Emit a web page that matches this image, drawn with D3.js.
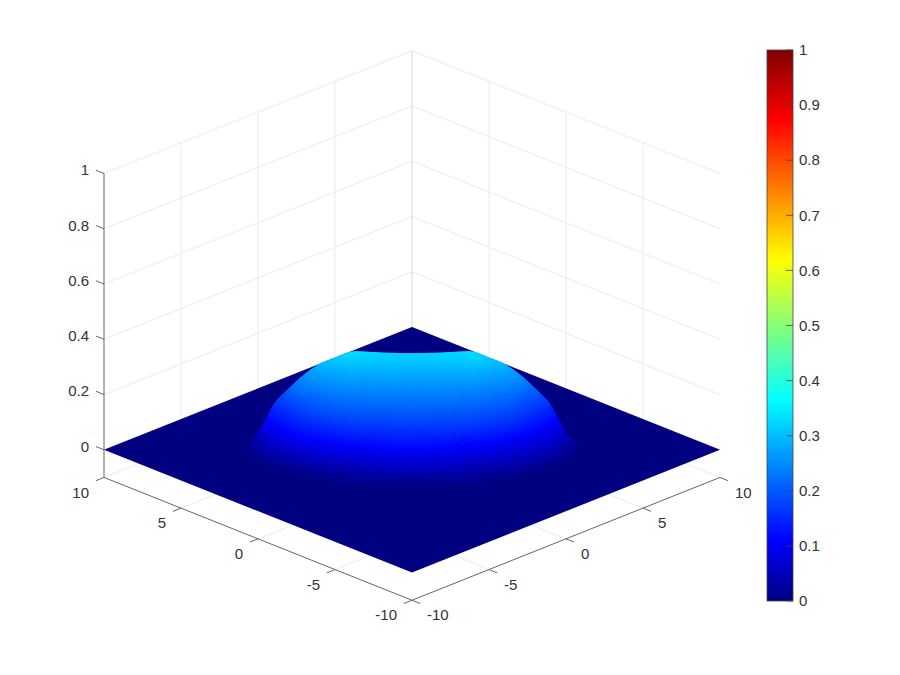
<!DOCTYPE html>
<html>
<head>
<meta charset="utf-8">
<script src="https://cdn.jsdelivr.net/npm/d3@7"></script>
<style>
    html, body { margin: 0; padding: 0; background: #fff; }
    text { font-family: "Liberation Sans", Arial, sans-serif; font-size: 15px; fill: #333; }
</style>
</head>
<body>
<svg id="viz" width="900" height="675"></svg>
<script>
// tick values
var floorTicks = [-10, -5, 0, 5, 10];
var heightTicks = [0, 0.2, 0.4, 0.6, 0.8, 1];
var colorTicks = [0, 0.1, 0.2, 0.3, 0.4, 0.5, 0.6, 0.7, 0.8, 0.9, 1];

// jet colormap
var jetStops = [0, 0.111, 0.365, 0.619, 0.873, 1];
var jetColors = ["#000080", "#0000ff", "#00ffff", "#ffff00", "#ff0000", "#800000"];

// surface heights. the dome is easier to read along the
// screen directions, so columns go across the screen (y - x) and rows go from
// the back corner to the front corner (x + y)
var acrossStops = [-11, -10, -9, -8, -7, -6, -5, -4, -3, -2, -1, 0, 1, 2, 3, 4, 5, 6, 7, 8, 9, 10, 11];
var depthStops = [7, 6, 5, 4, 3, 2, 1, 0, -1, -2, -3, -4, -5, -6, -7];
var heightRows = [
    [0, 0, 0, 0, 0, 0, 0, 0, 0, 0, 0, 0, 0, 0, 0, 0, 0, 0, 0, 0, 0, 0, 0],
    [0, 0, 0, 0, 0, 0, 0, 0, 0, 0, 0, 0, 0, 0, 0, 0, 0, 0, 0, 0, 0, 0, 0],
    [0, 0, 0, 0, 0, 0, .003, .031, .044, .05, .053, .053, .053, .05, .044, .031, .003, 0, 0, 0, 0, 0, 0],
    [0, 0, 0, 0, 0, .036, .065, .102, .12, .129, .134, .134, .134, .129, .12, .102, .065, .036, 0, 0, 0, 0, 0],
    [0, 0, 0, .019, .073, .128, .166, .2, .21, .215, .215, .214, .215, .215, .21, .2, .166, .128, .073, .019, 0, 0, 0],
    [0, 0, .027, .101, .17, .219, .26, .289, .296, .297, .298, .297, .298, .297, .296, .289, .26, .219, .17, .101, .027, 0, 0],
    [0, .02, .132, .196, .248, .287, .31, .329, .328, .323, .32, .318, .32, .323, .328, .329, .31, .287, .248, .196, .132, .02, 0],
    [0, .06, .149, .198, .246, .274, .289, .301, .3, .299, .298, .297, .298, .299, .3, .301, .289, .274, .246, .198, .149, .06, 0],
    [0, .032, .112, .16, .207, .236, .254, .266, .268, .268, .268, .267, .268, .268, .268, .266, .254, .236, .207, .16, .112, .032, 0],
    [0, 0, .069, .124, .171, .2, .219, .232, .237, .237, .238, .237, .238, .237, .237, .232, .219, .2, .171, .124, .069, 0, 0],
    [0, 0, .003, .062, .122, .157, .179, .194, .203, .205, .207, .207, .207, .205, .203, .194, .179, .157, .122, .062, .003, 0, 0],
    [0, 0, 0, 0, .027, .088, .124, .143, .157, .163, .167, .167, .167, .163, .157, .143, .124, .088, .027, 0, 0, 0, 0],
    [0, 0, 0, 0, 0, 0, .02, .048, .085, .102, .114, .115, .114, .102, .085, .048, .02, 0, 0, 0, 0, 0, 0],
    [0, 0, 0, 0, 0, 0, 0, 0, .005, .011, .014, .015, .014, .011, .005, 0, 0, 0, 0, 0, 0, 0, 0],
    [0, 0, 0, 0, 0, 0, 0, 0, 0, 0, 0, 0, 0, 0, 0, 0, 0, 0, 0, 0, 0, 0, 0]
];

window.addEventListener("load", run);

function run() {
    var svg = d3.select("#viz");

    var acrossScale = d3.scaleLinear().domain([-20, 20]).range([104, 720]);
    var depthScale = d3.scaleLinear().domain([-20, 20]).range([122.8, -122.8]);
    var heightScale = d3.scaleLinear().domain([0, 1]).range([449.8, 173.5]);
    var jet = d3.scaleLinear().domain(jetStops).range(jetColors).clamp(true);

    // x, y, z to screen
    var project = function (x, y, z) {
        return [acrossScale(y - x), depthScale(x + y) + heightScale(z)];
    };

    var line = function (a, b, color, width) {
        svg.append("line")
            .attr("x1", a[0]).attr("y1", a[1])
            .attr("x2", b[0]).attr("y2", b[1])
            .style("stroke", color)
            .style("stroke-width", width);
    };

    var zMin = -0.1;
    var gridColor = "#ebebeb";

    // back walls and the plane under the floor
    floorTicks.forEach(function (t) {
        if (t > -10 && t < 10) {
            line(project(10, t, zMin), project(10, t, 1), gridColor, 1);
            line(project(t, 10, zMin), project(t, 10, 1), gridColor, 1);
        }
        if (t > -10) {
            line(project(t, -10, zMin), project(t, 10, zMin), gridColor, 1);
            line(project(-10, t, zMin), project(10, t, zMin), gridColor, 1);
        }
    });
    heightTicks.forEach(function (t) {
        line(project(10, -10, t), project(10, 10, t), gridColor, 1);
        line(project(10, 10, t), project(-10, 10, t), gridColor, 1);
    });
    line(project(10, 10, zMin), project(10, 10, 1), "#d6d6d6", 1);

    // floor of the surface
    var corners = [[10, -10], [10, 10], [-10, 10], [-10, -10]].map(function (c) {
        return project(c[0], c[1], 0);
    });
    svg.append("path")
        .attr("d", d3.line()(corners) + "Z")
        .style("fill", jet(0));

    drawDome(svg, acrossScale, depthScale, heightScale, jet);

    // axes
    var axisColor = "#666";
    line(project(10, -10, zMin), project(10, -10, 1), axisColor, 1);
    line(project(10, -10, zMin), project(-10, -10, zMin), axisColor, 1);
    line(project(-10, -10, zMin), project(-10, 10, zMin), axisColor, 1);

    heightTicks.forEach(function (t) {
        var p = project(10, -10, t);
        line(p, [p[0] - 8, p[1] - 3.2], axisColor, 1);
        svg.append("text")
            .attr("x", 89)
            .attr("y", p[1] - 3.5)
            .attr("dy", "0.35em")
            .style("text-anchor", "end")
            .text(t);
    });

    floorTicks.forEach(function (t) {
        var p = project(t, -10, zMin);
        line(p, [p[0] - 8, p[1] + 3.2], axisColor, 1);
        svg.append("text")
            .attr("x", p[0] - 15)
            .attr("y", p[1] + 15)
            .attr("dy", "0.35em")
            .style("text-anchor", "end")
            .text(t);

        var q = project(-10, t, zMin);
        line(q, [q[0] + 8, q[1] + 3.2], axisColor, 1);
        svg.append("text")
            .attr("x", q[0] + 15)
            .attr("y", q[1] + 15)
            .attr("dy", "0.35em")
            .style("text-anchor", "start")
            .text(t);
    });

    drawColorbar(svg, jet);
}

// same as shading interp: the facets between the read heights get a smooth fill
var drawDome = function (svg, acrossScale, depthScale, heightScale, jet) {
    var steps = 6;

    var spline = function (p0, p1, p2, p3, t) {
        return 0.5 * (2 * p1 + (p2 - p0) * t + (2 * p0 - 5 * p1 + 4 * p2 - p3) * t * t +
            (3 * p1 - p0 - 3 * p2 + p3) * t * t * t);
    };
    var clampIndex = function (i, n) {
        return Math.max(0, Math.min(n - 1, i));
    };
    var heightAt = function (row, col, rowT, colT) {
        var values = d3.range(-1, 3).map(function (dr) {
            var r = heightRows[clampIndex(row + dr, heightRows.length)];
            return spline(
                r[clampIndex(col - 1, r.length)],
                r[clampIndex(col, r.length)],
                r[clampIndex(col + 1, r.length)],
                r[clampIndex(col + 2, r.length)],
                colT);
        });
        return Math.max(0, spline(values[0], values[1], values[2], values[3], rowT));
    };
    var vertex = function (row, col, rowT, colT) {
        var across = acrossStops[col] + (acrossStops[col + 1] - acrossStops[col]) * colT;
        var depth = depthStops[row] + (depthStops[row + 1] - depthStops[row]) * rowT;
        var z = heightAt(row, col, rowT, colT);
        return { x: acrossScale(across), y: depthScale(depth) + heightScale(z), z: z };
    };

    // back to front so the nearer facets cover the far ones
    var facets = [];
    d3.range(depthStops.length - 1).forEach(function (row) {
        d3.range(steps).forEach(function (i) {
            d3.range(acrossStops.length - 1).forEach(function (col) {
                d3.range(steps).forEach(function (j) {
                    var a = vertex(row, col, i / steps, j / steps);
                    var b = vertex(row, col, i / steps, (j + 1) / steps);
                    var c = vertex(row, col, (i + 1) / steps, (j + 1) / steps);
                    var d = vertex(row, col, (i + 1) / steps, j / steps);
                    var mean = (a.z + b.z + c.z + d.z) / 4;
                    if (mean > 0.0005) {
                        facets.push({ points: [a, b, c, d], z: mean });
                    }
                });
            });
        });
    });

    svg.append("g").selectAll("path").data(facets).enter()
        .append("path")
        .attr("d", function (f) {
            return d3.line().x(function (p) { return p.x; }).y(function (p) { return p.y; })(f.points) + "Z";
        })
        .style("fill", function (f) { return jet(f.z); })
        .style("stroke", function (f) { return jet(f.z); })
        .style("stroke-width", 0.6);
};

var drawColorbar = function (svg, jet) {
    var barLeft = 767;
    var barWidth = 26;
    var barScale = d3.scaleLinear().domain([0, 1]).range([601, 50]);

    var gradient = svg.append("defs").append("linearGradient")
        .attr("id", "jetBar")
        .attr("x1", 0).attr("y1", 1)
        .attr("x2", 0).attr("y2", 0);
    gradient.selectAll("stop").data(jetStops).enter()
        .append("stop")
        .attr("offset", function (d) { return d; })
        .attr("stop-color", function (d) { return jet(d); });

    svg.append("rect")
        .attr("x", barLeft)
        .attr("y", barScale(1))
        .attr("width", barWidth)
        .attr("height", barScale(0) - barScale(1))
        .style("fill", "url(#jetBar)")
        .style("stroke", "#444")
        .style("stroke-width", 0.8);

    colorTicks.forEach(function (t) {
        svg.append("line")
            .attr("x1", barLeft + barWidth - 7)
            .attr("x2", barLeft + barWidth)
            .attr("y1", barScale(t))
            .attr("y2", barScale(t))
            .style("stroke", "#444")
            .style("stroke-width", 0.8);
        svg.append("text")
            .attr("x", barLeft + barWidth + 6)
            .attr("y", barScale(t))
            .attr("dy", "0.35em")
            .text(t);
    });
};
</script>
</body>
</html>
